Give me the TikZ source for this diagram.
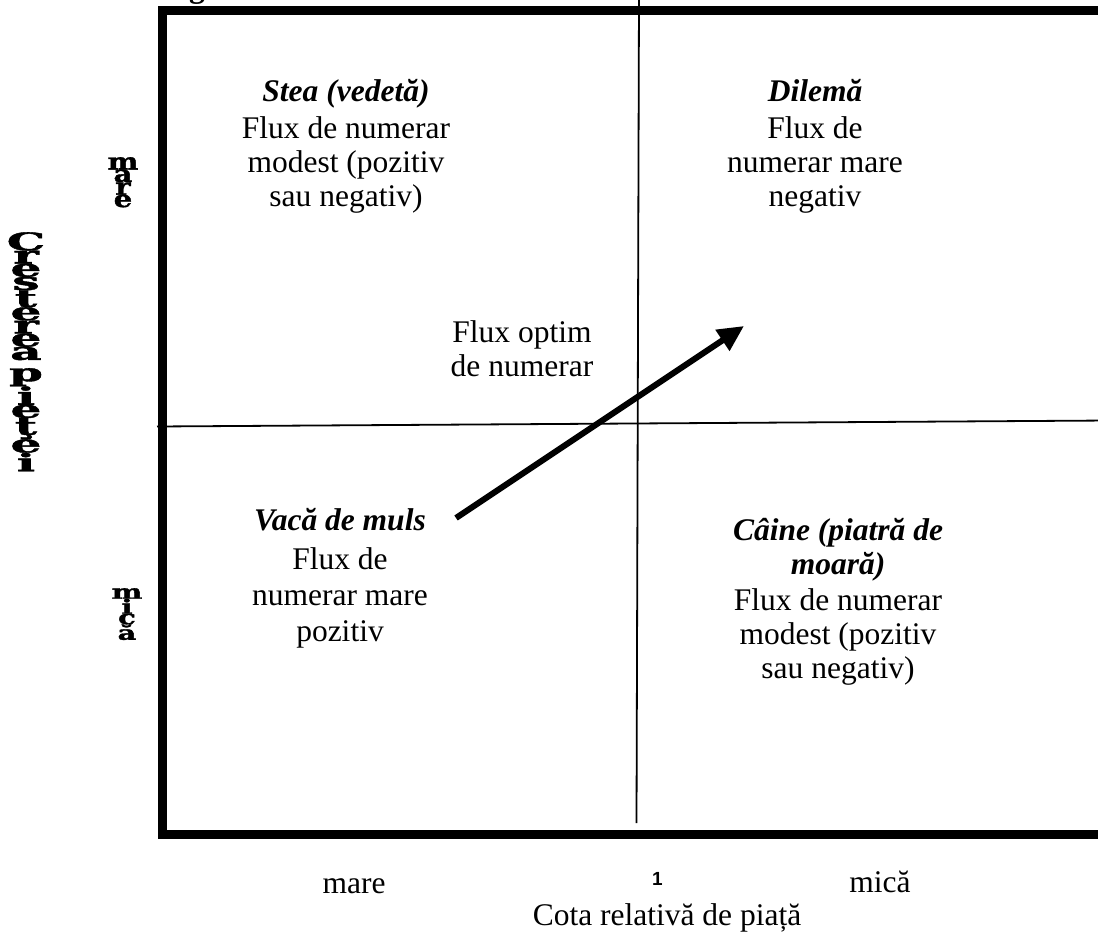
\documentclass[tikz,border=0pt]{standalone}
\usepackage{fontspec}
\setmainfont{Liberation Serif}
\newfontfamily\axisfont{DejaVu Serif Bold}[FakeBold=1.6]
\newfontfamily\numfont{Liberation Sans}
\usepackage{graphicx}
\usetikzlibrary{arrows.meta}
\newcommand\sq[1]{\scalebox{1.15}[0.58]{#1}}
\newcommand\sqb[1]{\scalebox{1}[0.8]{#1}}
\newcommand\sqc[1]{\scalebox{1}[0.68]{#1}}
\newcommand\vstack[1]{\vbox{\offinterlineskip\halign{\hfil##\hfil\cr#1\crcr}}}
\newcommand\lines[1]{\vtop{\halign{\hfil##\hfil\cr#1\crcr}}}
\begin{document}
\begin{tikzpicture}[x=1pt,y=-1pt,
  frame/.style={line width=9pt, line join=miter, line cap=butt},
  divider/.style={line width=1.8pt},
  flowarrow/.style={line width=6pt, -{Triangle[length=26pt,width=24pt]}},
  quad/.style={inner sep=0pt, anchor=base, font=\fontsize{31.5}{34}\selectfont},
  lbl/.style={inner sep=0pt, anchor=base, font=\fontsize{31.5}{34}\selectfont},
  vaxis/.style={inner sep=0pt, anchor=north, font=\axisfont\fontsize{42}{42}\selectfont},
  vtick/.style={inner sep=0pt, anchor=north, font=\axisfont\fontsize{29}{29}\selectfont},
]
\useasboundingbox (0,0) rectangle (1098,936);
% frame
\coordinate (ftr) at (1115,10.5);
\coordinate (ftl) at (162.5,10.5);
\coordinate (fbl) at (162.5,834.5);
\coordinate (fbr) at (1115,834.5);
\draw[frame] (ftr) -- (ftl) -- (fbl) -- (fbr);
% dividers
\coordinate (vtop) at (639,-5);
\coordinate (vbot) at (636.5,823);
\coordinate (hleft) at (157,426.5);
\coordinate (hright) at (1110,420.5);
\draw[divider] (vtop) -- (vbot);
\draw[divider] (hleft) -- (hright);
% cut-off glyph of a title above
\node[inner sep=0pt, anchor=base, font=\bfseries\fontsize{31.5}{34}\selectfont] (cutg) at (197,-2) {g};
% quadrants
\node[quad] (star) at (346,102) {\lines{\textbf{\textit{Stea (vedetă)}}\cr\noalign{\vskip3pt}Flux de numerar\cr modest (pozitiv\cr sau negativ)}};
\node[quad] (dilemma) at (815,102) {\lines{\textbf{\textit{Dilemă}}\cr\noalign{\vskip3pt}Flux de\cr numerar mare\cr negativ}};
\node[quad] (optim) at (522,342) {\lines{Flux optim\cr de numerar}};
\node[quad, font=\fontsize{31.5}{36}\selectfont] (cow) at (340,530) {\lines{\textbf{\textit{Vacă de muls}}\cr\noalign{\vskip3pt}Flux de\cr numerar mare\cr pozitiv}};
\node[quad] (dog) at (838,540) {\lines{\textbf{\textit{Câine (piatră de}}\cr\textbf{\textit{moară)}}\cr\noalign{\vskip2pt}Flux de numerar\cr modest (pozitiv\cr sau negativ)}};
% arrow
\coordinate (flowstart) at (456,518);
\coordinate (flowend) at (744,326);
\draw[flowarrow] (flowstart) -- (flowend);
% x axis labels
\node[lbl] (xbig) at (354,893) {mare};
\node[lbl, font=\numfont\bfseries\fontsize{19}{19}\selectfont] (xone) at (657.5,885) {1};
\node[lbl] (xsmall) at (880,892) {mică};
\node[lbl] (xtitle) at (667,925) {Cota relativă de piață};
% y axis labels
\node[vaxis] (ytitle) at (26,232) {\vstack{\sq{C}\cr\sq{r}\cr\sq{e}\cr\sq{s}\cr\sq{t}\cr\sq{e}\cr\sq{r}\cr\sq{e}\cr\sq{a}\cr\noalign{\vskip8pt}\sq{p}\cr\sq{i}\cr\sq{e}\cr\sq{ţ}\cr\sq{e}\cr\sq{i}}};
\node[vtick] (ybig) at (123,157) {\vstack{\sqb{m}\cr\sqb{a}\cr\sqb{r}\cr\sqb{e}}};
\node[vtick] (ysmall) at (127,588) {\vstack{\sqc{m}\cr\sqc{i}\cr\sqc{c}\cr\sqc{ă}}};
\end{tikzpicture}
\end{document}
